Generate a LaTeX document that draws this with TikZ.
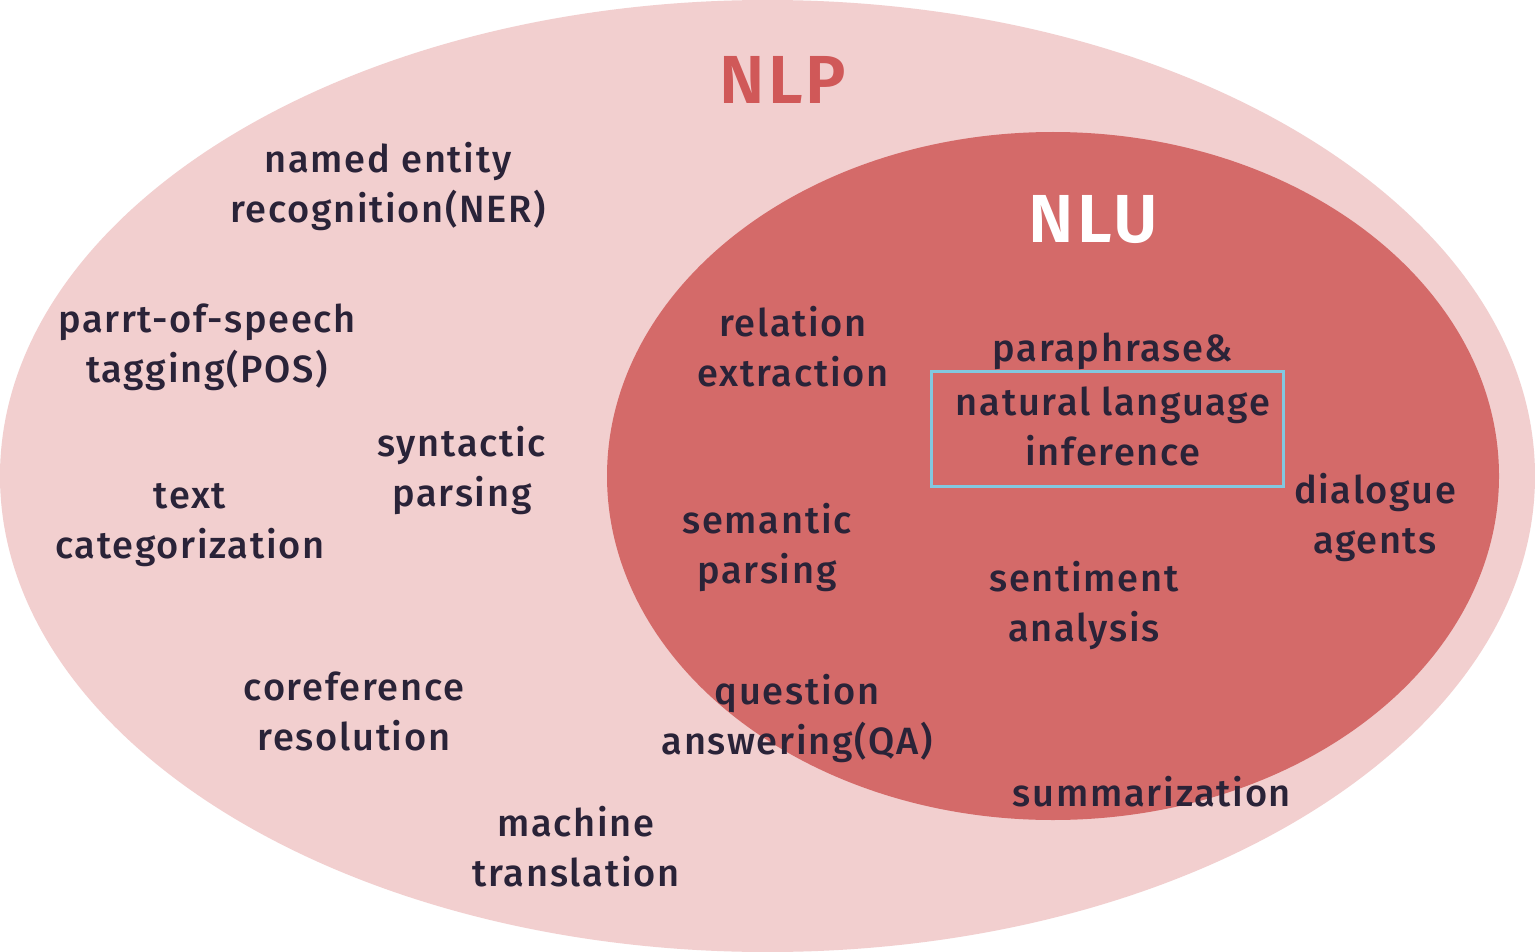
\documentclass[tikz,border=0pt]{standalone}
\usetikzlibrary{shapes.geometric}
\usepackage{fontspec}
\setmainfont{Fira Sans}[UprightFont=* Medium, BoldFont=* SemiBold, LetterSpace=4.5]
\definecolor{outerfill}{HTML}{F2CFCF}
\definecolor{innerfill}{HTML}{D46A69}
\definecolor{nlpred}{HTML}{D05858}
\definecolor{txt}{HTML}{2A2338}
\definecolor{boxblue}{HTML}{82C8E0}
\begin{document}
\begin{tikzpicture}[x=0.5pt,y=-0.5pt,
  lbl/.style={text=txt,font=\fontsize{19}{25}\selectfont,align=center,inner sep=0pt},
  title/.style={font=\fontsize{34}{40}\selectfont\bfseries,inner sep=0pt}]
\useasboundingbox (0,0) rectangle (1535,952);
\fill[white] (0,0) rectangle (1535,952);
\node[ellipse,fill=outerfill,minimum width=767.5pt,minimum height=476pt,inner sep=0pt] (outer) at (767.5,476) {};
\node[ellipse,fill=innerfill,minimum width=446pt,minimum height=344pt,inner sep=0pt] (inner) at (1053,476) {};
\node[title,text=nlpred] (nlp) at (783,80) {NLP};
\node[title,text=white] (nlu) at (1093,220) {NLU};
\node[lbl] (ner) at (388,187) {named entity\\recognition(NER)};
\node[lbl] (pos) at (207,347) {parrt-of-speech\\tagging(POS)};
\node[lbl] (syn) at (462,470) {syntactic\\parsing};
\node[lbl] (tc) at (190,525) {text\\categorization};
\node[lbl] (coref) at (354,711) {coreference\\resolution};
\node[lbl] (mt) at (576,847) {machine\\translation};
\node[lbl] (re) at (793,347) {relation\\extraction};
\node[lbl] (para) at (1113,351) {paraphrase\&};
\node[lbl] (nli) at (1113,426) {natural language\\inference};
\draw[boxblue,line width=1.5pt] (931,371) rectangle (1283,486);
\node[lbl] (dia) at (1375,517) {dialogue\\agents};
\node[lbl] (sem) at (767,547) {semantic\\parsing};
\node[lbl] (sa) at (1084,605) {sentiment\\analysis};
\node[lbl] (qa) at (797,718) {question\\answering(QA)};
\node[lbl] (sum) at (1152,792) {summarization};
\end{tikzpicture}
\end{document}
